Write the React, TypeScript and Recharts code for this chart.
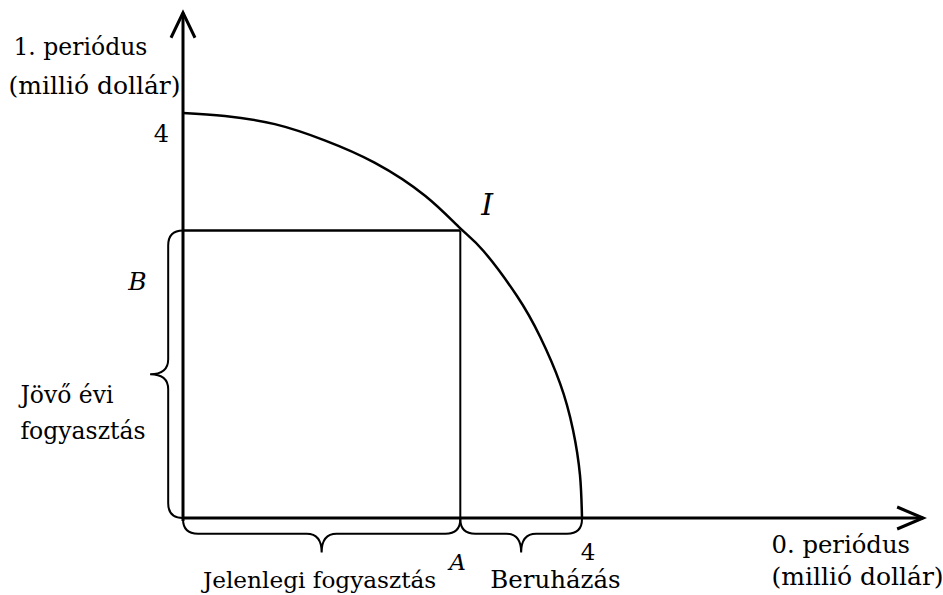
import { ComposedChart, Line, XAxis, YAxis, ReferenceLine, ReferenceArea, ReferenceDot } from "recharts";

// production possibility frontier (millió dollár)
const frontierX = [0, 0.42, 0.92, 1.42, 1.92, 2.43, 2.78, 3.01, 3.35, 3.58, 3.78, 3.91, 3.98, 4.0];
const frontierY = [4.0, 3.97, 3.89, 3.73, 3.51, 3.18, 2.86, 2.64, 2.19, 1.79, 1.33, 0.87, 0.42, 0];

// chosen point I: A = current consumption, B = next-year consumption
const pointA = 2.78;
const pointB = 2.84;
const maxValue = 4;

const frontier = frontierX.map((x, i) => ({ x, y: frontierY[i] }));

const FONT = "'DejaVu Serif', 'Liberation Serif', serif";

type Note = { text: string; x: number; y: number; anchor?: "start" | "middle" | "end"; size: number; italic?: boolean };

const notes: Note[] = [
  { text: "1. periódus", x: -1.7, y: 4.57, size: 23.5 },
  { text: "(millió dollár)", x: -1.75, y: 4.19, size: 25 },
  { text: String(maxValue), x: -0.14, y: 3.71, anchor: "end", size: 24 },
  { text: "B", x: -0.55, y: 2.25, size: 25, italic: true },
  { text: "I", x: 2.99, y: 2.99, size: 30, italic: true },
  { text: "Jövő évi", x: -1.63, y: 1.14, size: 23.5 },
  { text: "fogyasztás", x: -1.63, y: 0.78, size: 23.5 },
  { text: "A", x: 2.67, y: -0.51, size: 23, italic: true },
  { text: String(maxValue), x: 4.06, y: -0.41, anchor: "middle", size: 23 },
  { text: "Jelenlegi fogyasztás", x: 0.2, y: -0.69, size: 23.2 },
  { text: "Beruházás", x: 3.08, y: -0.69, size: 24.5 },
  { text: "0. periódus", x: 5.9, y: -0.35, size: 24.3 },
  { text: "(millió dollár)", x: 5.9, y: -0.66, size: 25 },
];

// brace opening upward, tip pointing down (under the x axis)
function BraceDown(p: any) {
  const { x, y, width: w, height: h } = p;
  const b = y + h * 0.44;
  const cx = x + w / 2;
  const r = 15;
  const d = `M${x},${y} Q${x},${b} ${x + r},${b} L${cx - r},${b} Q${cx},${b} ${cx},${y + h} Q${cx},${b} ${cx + r},${b} L${x + w - r},${b} Q${x + w},${b} ${x + w},${y}`;
  return <path d={d} fill="none" stroke="#000" strokeWidth={2} />;
}

// brace opening right, tip pointing left (next to the y axis)
function BraceLeft(p: any) {
  const { x, y, width: w, height: h } = p;
  const R = x + w;
  const m = R - w * 0.45;
  const cy = y + h / 2;
  const r = 15;
  const d = `M${R},${y} Q${m},${y} ${m},${y + r} L${m},${cy - r} Q${m},${cy} ${x},${cy} Q${m},${cy} ${m},${cy + r} L${m},${y + h - r} Q${m},${y + h} ${R},${y + h}`;
  return <path d={d} fill="none" stroke="#000" strokeWidth={2} />;
}

export default function App() {
  return (
    <div style={{ position: "absolute", left: 0, top: 0, background: "#fff" }}>
      <ComposedChart width={943} height={595} data={frontier} margin={{ top: 0, right: 0, bottom: 0, left: 0 }}>
        <XAxis type="number" dataKey="x" domain={[-1.8346, 7.619]} allowDataOverflow hide />
        <YAxis type="number" domain={[-0.7605, 5.116]} allowDataOverflow hide />

        {/* axes */}
        <ReferenceLine segment={[{ x: 0, y: -0.03 }, { x: 0, y: 4.99 }]} stroke="#000" strokeWidth={3} />
        <ReferenceLine segment={[{ x: 0, y: 0 }, { x: 7.42, y: 0 }]} stroke="#000" strokeWidth={3} />
        <ReferenceDot
          x={7.42}
          y={0}
          shape={(p: any) => (
            <path d={`M${p.cx - 26},${p.cy - 11} L${p.cx},${p.cy} L${p.cx - 26},${p.cy + 11}`} fill="none" stroke="#000" strokeWidth={3} />
          )}
        />
        <ReferenceDot
          x={0}
          y={4.99}
          shape={(p: any) => (
            <path d={`M${p.cx - 12},${p.cy + 25} L${p.cx},${p.cy} L${p.cx + 12},${p.cy + 25}`} fill="none" stroke="#000" strokeWidth={3} />
          )}
        />

        {/* consumption box */}
        <ReferenceLine segment={[{ x: 0, y: pointB }, { x: pointA, y: pointB }]} stroke="#000" strokeWidth={2.5} />
        <ReferenceLine segment={[{ x: pointA, y: 0 }, { x: pointA, y: pointB }]} stroke="#000" strokeWidth={2} />

        {/* braces */}
        <ReferenceArea x1={-0.33} x2={0} y1={0} y2={pointB} shape={BraceLeft} />
        <ReferenceArea x1={0} x2={pointA} y1={-0.34} y2={-0.01} shape={BraceDown} />
        <ReferenceArea x1={pointA} x2={maxValue} y1={-0.34} y2={-0.01} shape={BraceDown} />

        <Line dataKey="y" type="natural" stroke="#000" strokeWidth={2.5} dot={false} activeDot={false} isAnimationActive={false} />

        {notes.map((n) => (
          <ReferenceDot
            key={n.text + n.x}
            x={n.x}
            y={n.y}
            shape={(p: any) => (
              <text
                x={p.cx}
                y={p.cy}
                textAnchor={n.anchor ?? "start"}
                fontFamily={FONT}
                fontSize={n.size}
                fontStyle={n.italic ? "italic" : "normal"}
                fill="#000"
              >
                {n.text}
              </text>
            )}
          />
        ))}
      </ComposedChart>
    </div>
  );
}
